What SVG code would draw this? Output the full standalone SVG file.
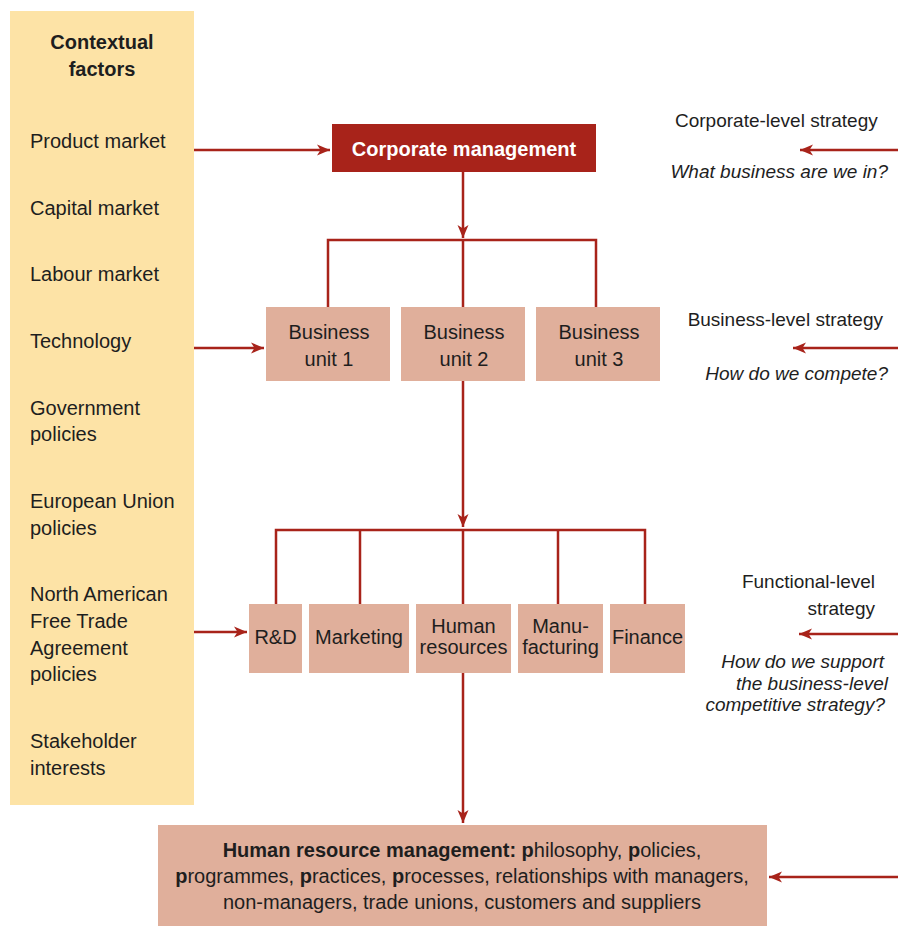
<svg xmlns="http://www.w3.org/2000/svg" width="898" height="927" viewBox="0 0 898 927">
  <defs>
    <marker id="arrow" viewBox="-13 -6 14 12" refX="0" refY="0" markerWidth="14" markerHeight="12" markerUnits="userSpaceOnUse" orient="auto">
      <path d="M0,0 L-13,-5.5 L-9.5,0 L-13,5.5 Z" fill="#A8231A"/>
    </marker>
    <style>
      text { font-family: "Liberation Sans", Arial, sans-serif; fill: #1e1e1e; }
      .ctx { font-size: 20px; }
      .hd { font-size: 20px; font-weight: bold; }
      .box { font-size: 20px; text-anchor: middle; }
      .lvl { font-size: 19px; }
      .q { font-size: 19px; font-style: italic; }
      .hrm { font-size: 20px; text-anchor: middle; }
      .b { font-weight: bold; }
      .unit { fill: #E0AF9B; }
      .wire { fill: none; stroke: #A8231A; stroke-width: 2.5; }
      .arr { fill: none; stroke: #A8231A; stroke-width: 2.5; marker-end: url(#arrow); }
    </style>
  </defs>

  <rect width="898" height="927" fill="#ffffff"/>

  <!-- Contextual factors panel -->
  <g id="contextual-factors">
    <rect x="10" y="11" width="184" height="794" fill="#FDE3A6"/>
    <text class="hd" x="102" y="49" text-anchor="middle">Contextual</text>
    <text class="hd" x="102" y="76" text-anchor="middle">factors</text>
    <text class="ctx" x="30" y="148">Product market</text>
    <text class="ctx" x="30" y="215">Capital market</text>
    <text class="ctx" x="30" y="281">Labour market</text>
    <text class="ctx" x="30" y="348">Technology</text>
    <text class="ctx" x="30" y="415">Government</text>
    <text class="ctx" x="30" y="441">policies</text>
    <text class="ctx" x="30" y="508">European Union</text>
    <text class="ctx" x="30" y="535">policies</text>
    <text class="ctx" x="30" y="601">North American</text>
    <text class="ctx" x="30" y="628">Free Trade</text>
    <text class="ctx" x="30" y="655">Agreement</text>
    <text class="ctx" x="30" y="681">policies</text>
    <text class="ctx" x="30" y="748">Stakeholder</text>
    <text class="ctx" x="30" y="775">interests</text>
  </g>

  <!-- Corporate level -->
  <g id="corporate-management">
    <rect x="332" y="124" width="264" height="48" fill="#A8231A"/>
    <text x="464" y="156" text-anchor="middle" font-size="20" font-weight="bold" style="fill:#ffffff">Corporate management</text>
  </g>

  <!-- Business units -->
  <g id="business-unit-1">
    <rect class="unit" x="266" y="307" width="124" height="74"/>
    <text class="box" x="329" y="339">Business</text>
    <text class="box" x="329" y="366">unit 1</text>
  </g>
  <g id="business-unit-2">
    <rect class="unit" x="401" y="307" width="124" height="74"/>
    <text class="box" x="464" y="339">Business</text>
    <text class="box" x="464" y="366">unit 2</text>
  </g>
  <g id="business-unit-3">
    <rect class="unit" x="536" y="307" width="124" height="74"/>
    <text class="box" x="599" y="339">Business</text>
    <text class="box" x="599" y="366">unit 3</text>
  </g>

  <!-- Functions -->
  <g id="rd">
    <rect class="unit" x="249" y="604" width="53" height="69"/>
    <text class="box" x="275.5" y="644">R&amp;D</text>
  </g>
  <g id="marketing">
    <rect class="unit" x="309" y="604" width="100" height="69"/>
    <text class="box" x="359" y="644">Marketing</text>
  </g>
  <g id="human-resources">
    <rect class="unit" x="416" y="604" width="95" height="69"/>
    <text class="box" x="463.5" y="633">Human</text>
    <text class="box" x="463.5" y="654">resources</text>
  </g>
  <g id="manufacturing">
    <rect class="unit" x="518" y="604" width="85" height="69"/>
    <text class="box" x="560.5" y="633">Manu-</text>
    <text class="box" x="560.5" y="654">facturing</text>
  </g>
  <g id="finance">
    <rect class="unit" x="610" y="604" width="75" height="69"/>
    <text class="box" x="647.5" y="644">Finance</text>
  </g>

  <!-- HRM -->
  <g id="hrm">
    <rect class="unit" x="158" y="825" width="609" height="101"/>
    <text class="hrm" x="462" y="857"><tspan class="b">Human resource management: p</tspan>hilosophy, <tspan class="b">p</tspan>olicies,</text>
    <text class="hrm" x="462" y="883"><tspan class="b">p</tspan>rogrammes, <tspan class="b">p</tspan>ractices, <tspan class="b">p</tspan>rocesses, relationships with managers,</text>
    <text class="hrm" x="462" y="909">non-managers, trade unions, customers and suppliers</text>
  </g>

  <!-- Strategy levels -->
  <g id="corporate-level">
    <text class="lvl" x="675" y="127">Corporate-level strategy</text>
    <text class="q" x="888" y="178" text-anchor="end">What business are we in?</text>
  </g>
  <g id="business-level">
    <text class="lvl" x="883" y="326" text-anchor="end">Business-level strategy</text>
    <text class="q" x="888" y="380" text-anchor="end">How do we compete?</text>
  </g>
  <g id="functional-level">
    <text class="lvl" x="875" y="588" text-anchor="end">Functional-level</text>
    <text class="lvl" x="875" y="615" text-anchor="end">strategy</text>
    <text class="q" x="884" y="668" text-anchor="end">How do we support</text>
    <text class="q" x="888" y="690" text-anchor="end">the business-level</text>
    <text class="q" x="885" y="711" text-anchor="end">competitive strategy?</text>
  </g>

  <!-- Connectors -->
  <g id="connectors">
    <!-- contextual inputs -->
    <line class="arr" x1="194" y1="150" x2="330" y2="150"/>
    <line class="arr" x1="194" y1="348" x2="264" y2="348"/>
    <line class="arr" x1="194" y1="632" x2="247" y2="632"/>
    <!-- corporate to business units -->
    <line class="arr" x1="463" y1="172" x2="463" y2="238"/>
    <polyline class="wire" points="328,307 328,240 596,240 596,307"/>
    <line class="wire" x1="463" y1="240" x2="463" y2="307"/>
    <!-- business unit to functions -->
    <line class="arr" x1="463" y1="381" x2="463" y2="527"/>
    <polyline class="wire" points="276,604 276,530 645,530 645,604"/>
    <line class="wire" x1="360" y1="530" x2="360" y2="604"/>
    <line class="wire" x1="463" y1="530" x2="463" y2="604"/>
    <line class="wire" x1="558" y1="530" x2="558" y2="604"/>
    <!-- HR to HRM -->
    <line class="arr" x1="463" y1="673" x2="463" y2="823"/>
    <!-- strategy inputs -->
    <line class="arr" x1="898" y1="150" x2="800" y2="150"/>
    <line class="arr" x1="898" y1="348" x2="793" y2="348"/>
    <line class="arr" x1="898" y1="634" x2="799" y2="634"/>
    <line class="arr" x1="898" y1="877" x2="769" y2="877"/>
  </g>
</svg>
